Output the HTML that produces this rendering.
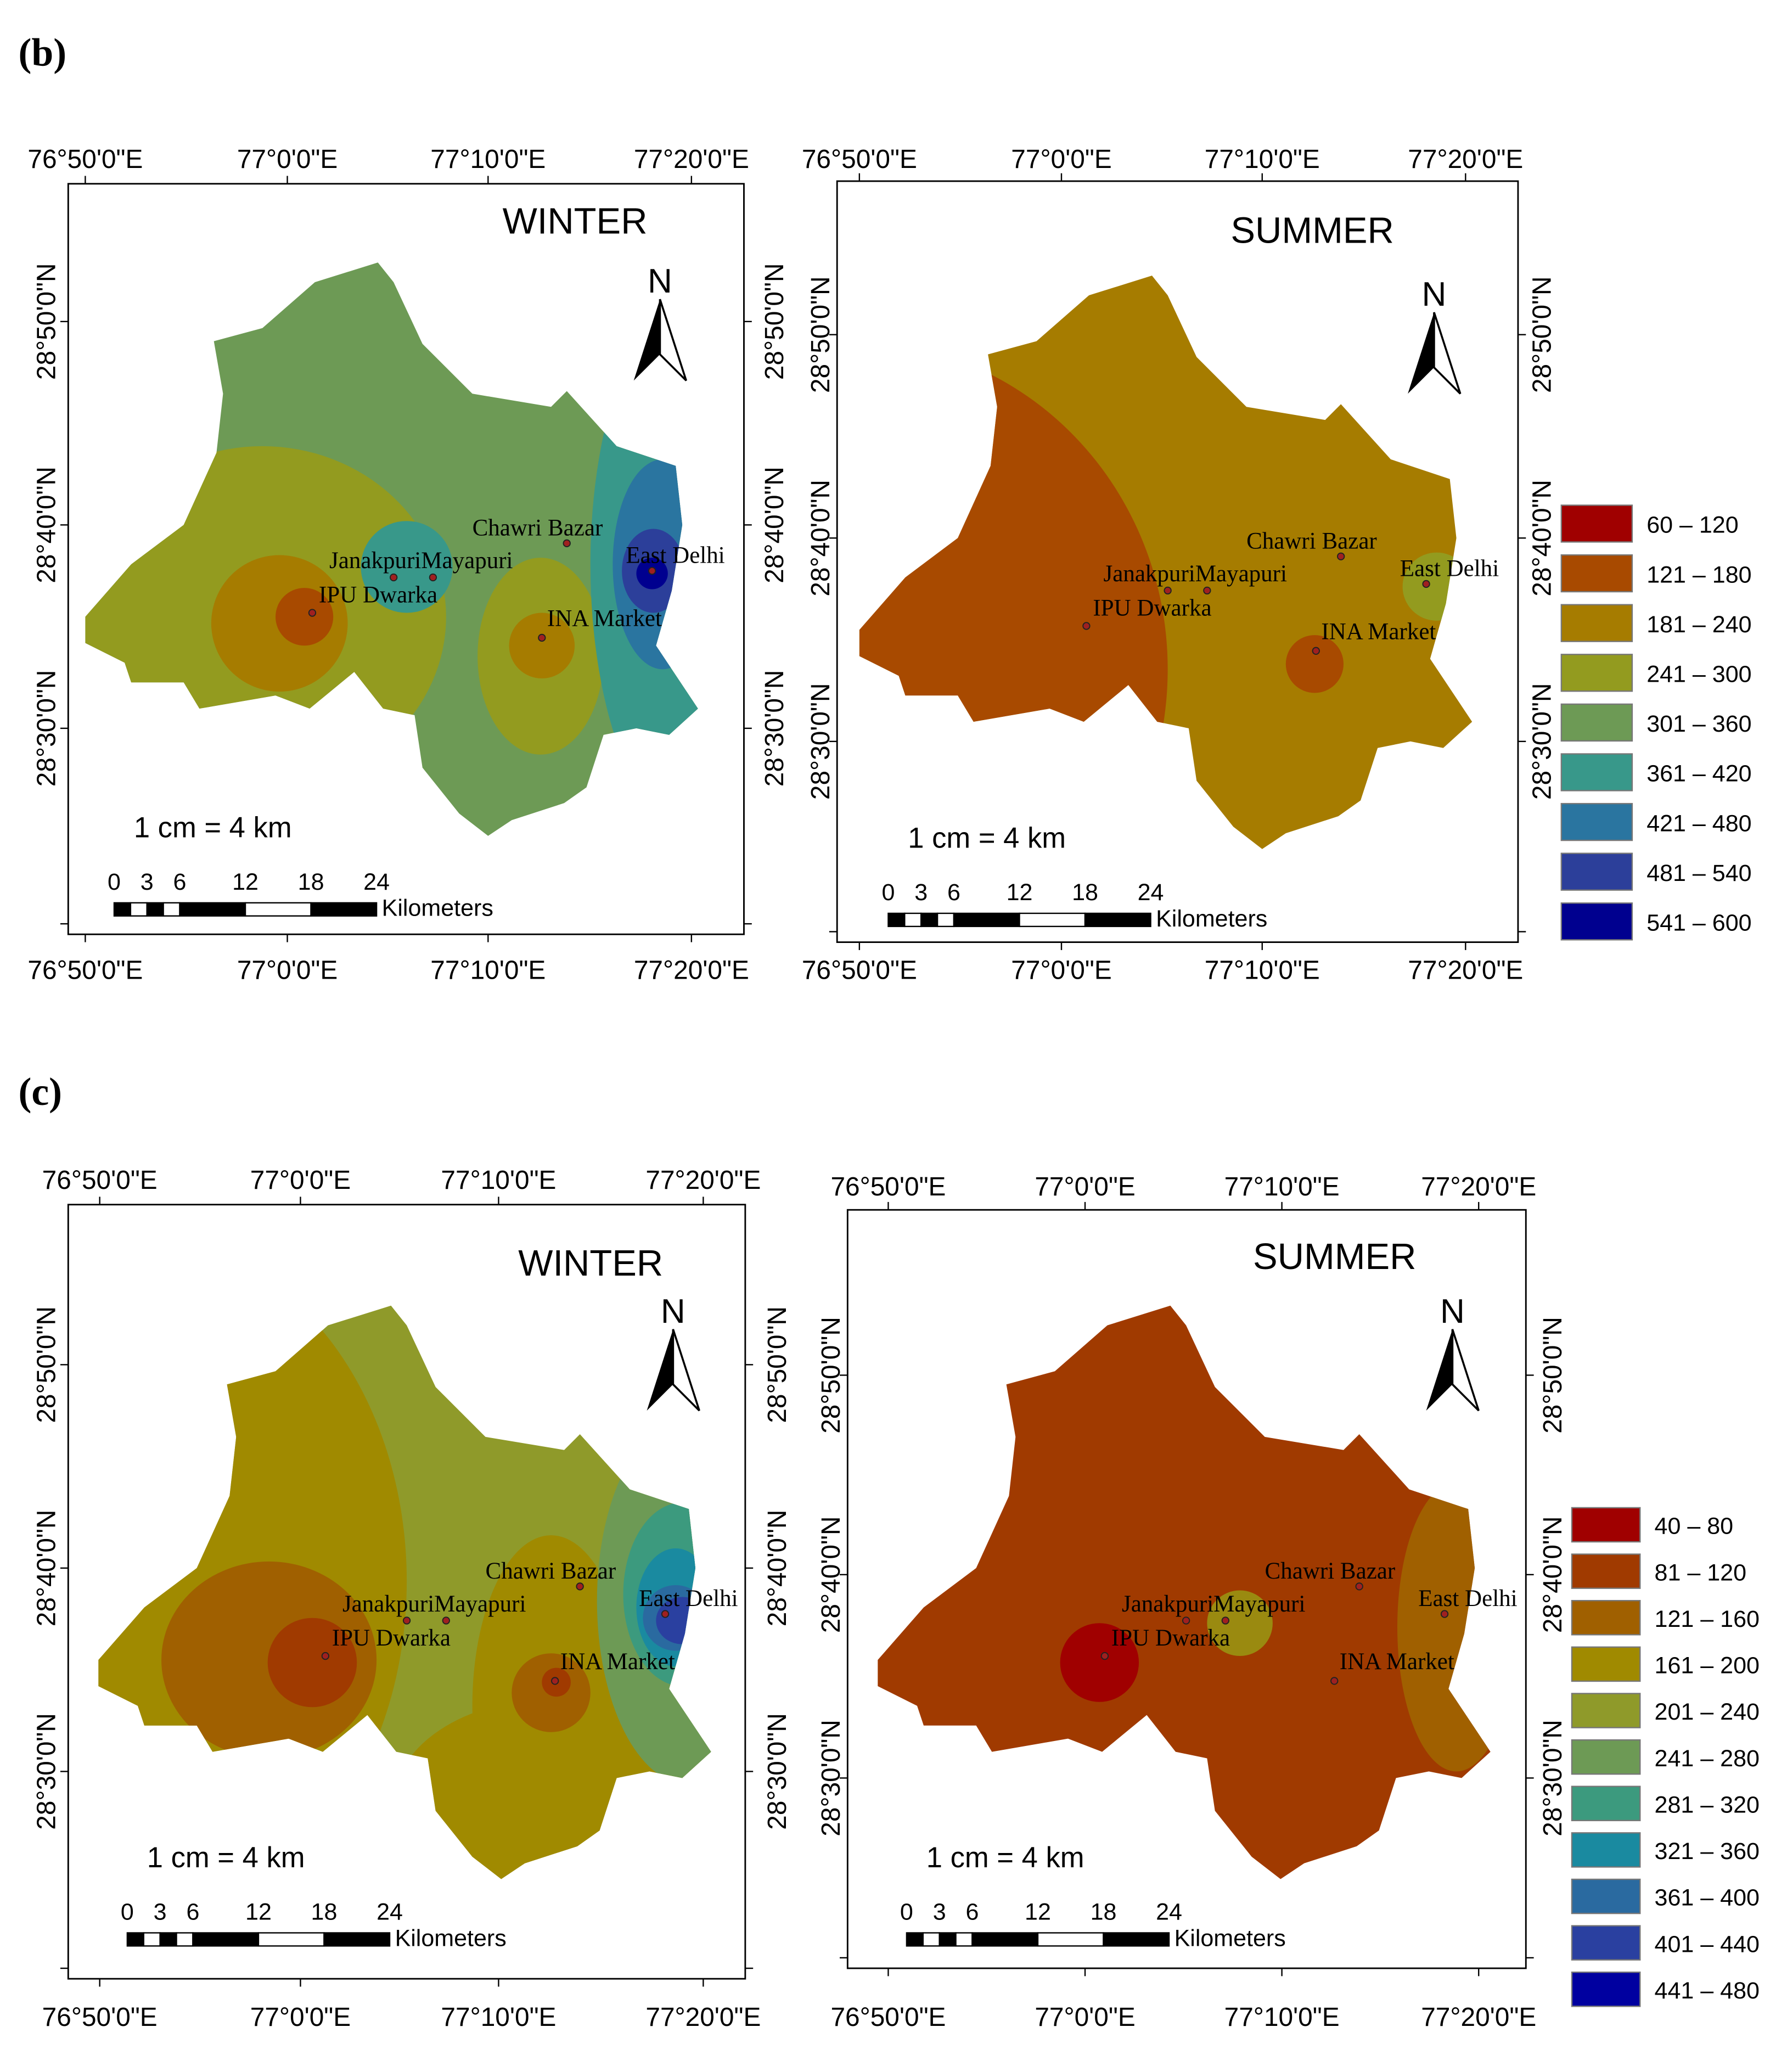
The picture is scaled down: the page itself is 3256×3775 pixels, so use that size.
<!DOCTYPE html>
<html><head><meta charset="utf-8">
<style>html,body{margin:0;padding:0;background:#fff}svg{display:block}</style></head>
<body>
<svg id="fig" xmlns="http://www.w3.org/2000/svg" width="3256" height="3775" viewBox="0 0 1362 1579" font-family="Liberation Sans, sans-serif">
<rect width="1362" height="1579" fill="#fff"/>
<text x="14" y="50" font-family="Liberation Serif, serif" font-weight="bold" font-size="30">(b)</text>
<text x="14" y="842" font-family="Liberation Serif, serif" font-weight="bold" font-size="30">(c)</text>
<g id="root"></g>
</svg>
<script>
const legendB = ["60 – 120","121 – 180","181 – 240","241 – 300","301 – 360","361 – 420","421 – 480","481 – 540","541 – 600"];
const colorsB = ["#a00000","#a84a00","#a67c00","#939b1f","#6d9a55","#38988a","#2a75a0","#2c3f9a","#00008f"];
const legendC = ["40 – 80","81 – 120","121 – 160","161 – 200","201 – 240","241 – 280","281 – 320","321 – 360","361 – 400","401 – 440","441 – 480"];
const colorsC = ["#a00000","#a03a00","#a06000","#a08a00","#8f9a2a","#6d9a55","#3c9a7e","#1a8aa0","#2a6aa0","#2a40a0","#0000a0"];
const lonTicks = ["76°50'0\"E","77°0'0\"E","77°10'0\"E","77°20'0\"E"];
const latTicks = ["28°50'0\"N","28°40'0\"N","28°30'0\"N"];
const stations = ["IPU Dwarka","Janakpuri","Mayapuri","Chawri Bazar","East Delhi","INA Market"];
const stationLabels = ["IPU Dwarka","JanakpuriMayapuri","","Chawri Bazar","East Delhi","INA Market"];
const scaleTicks = ["0","3","6","12","18","24"];

const NS="http://www.w3.org/2000/svg";
const root=document.getElementById('root');
function mk(tag,attrs,parent,txt){const e=document.createElementNS(NS,tag);for(const k in attrs)e.setAttribute(k,attrs[k]);if(txt!==undefined)e.textContent=txt;(parent||root).appendChild(e);return e;}

const shape=[[65,470],[100,430],[140,400],[165,345],[170,300],[163,260],[200,250],[240,215],[288,200],[300,215],[322,262],[360,300],[420,310],[432,298],[470,340],[515,355],[520,400],[512,450],[500,492],[532,540],[510,560],[485,555],[460,560],[447,600],[430,612],[390,625],[372,637],[350,620],[322,585],[316,545],[292,540],[270,512],[236,540],[210,530],[152,540],[140,520],[100,520],[95,505],[65,490]];
const stPos=[[238,467],[300,440],[330,440],[432,414],[497,435],[413,486]];
const stLab=[[243,459],[251,433],[300,433],[360,408],[477,429],[417,477]];

const panels=[
 {id:"b-winter",title:"WINTER",tx:383,ty:178,frame:[52,140,567,712],top:[65,219,372,527],ly:128,by:746,lat:[245,400,555],lx:35,rx:590,dx:0,dy:0,base:colorsB[4],
  blobs:[[200,470,140,130,colorsB[3]],[213,475,52,52,colorsB[2]],[232,470,22,22,colorsB[1]],[310,432,35,35,colorsB[5]],[412,500,48,75,colorsB[3]],[413,492,25,25,colorsB[2]],[535,430,85,210,colorsB[5]],[505,430,38,80,colorsB[6]],[498,435,24,32,colorsB[7]],[497,437,12,12,colorsB[8]]]},
 {id:"b-summer",title:"SUMMER",tx:938,ty:185,frame:[638,138,1157,718],top:[655,809,962,1117],ly:128,by:746,lat:[255,410,565],lx:625,rx:1175,dx:590,dy:10,base:colorsB[2],
  blobs:[[60,500,240,250,colorsB[1]],[412,496,22,22,colorsB[1]],[505,437,26,26,colorsB[3]]]},
 {id:"c-winter",title:"WINTER",tx:395,ty:972,frame:[52,918,568,1508],top:[76,229,380,536],ly:906,by:1544,lat:[1040,1195,1350],lx:35,rx:592,dx:10,dy:795,base:colorsC[4],
  blobs:[[100,410,200,260,colorsC[3]],[410,580,120,80,colorsC[3]],[195,470,82,75,colorsC[2]],[228,472,34,34,colorsC[1]],[410,505,60,130,colorsC[3]],[410,495,30,30,colorsC[2]],[414,487,11,11,colorsC[1]],[515,425,70,140,colorsC[5]],[510,420,45,70,colorsC[6]],[505,430,30,45,colorsC[7]],[505,438,25,25,colorsC[8]],[510,440,20,18,colorsC[9]]]},
 {id:"c-summer",title:"SUMMER",tx:955,ty:967,frame:[646,922,1163,1500],top:[677,827,977,1127],ly:911,by:1544,lat:[1048,1200,1355],lx:633,rx:1183,dx:604,dy:795,base:colorsC[1],
  blobs:[[234,472,30,30,colorsC[0]],[341,442,25,25,"#9a8a10"],[506,445,45,110,colorsC[2]]]}
];

panels.forEach((p,pi)=>{
 const g=mk('g',{});
 
 
 const [x0,y0,x1,y1]=p.frame;
 const fr=mk('rect',{x:x0,y:y0,width:x1-x0,height:y1-y0,fill:'none',stroke:'#000','stroke-width':1.2},g);
 
 
 p.top.forEach((x,i)=>{
  mk('line',{x1:x,y1:y0,x2:x,y2:y0-6,stroke:'#000'},g);
  mk('line',{x1:x,y1:y1,x2:x,y2:y1+6,stroke:'#000'},g);
  const t=mk('text',{x:x,y:p.ly,'font-size':20,'text-anchor':'middle'},g,lonTicks[i]);
  
  
  const b=mk('text',{x:x,y:p.by,'font-size':20,'text-anchor':'middle'},g,lonTicks[i]);
  
  
 });
 p.lat.forEach((y,i)=>{
  mk('line',{x1:x0,y1:y,x2:x0-6,y2:y,stroke:'#000'},g);
  mk('line',{x1:x1,y1:y,x2:x1+6,y2:y,stroke:'#000'},g);
  const l=mk('text',{x:p.lx,y:y,'font-size':20,'text-anchor':'middle',transform:`rotate(-90 ${p.lx} ${y})`,dy:7},g,latTicks[i]);
  
  
  const r=mk('text',{x:p.rx,y:y,'font-size':20,'text-anchor':'middle',transform:`rotate(-90 ${p.rx} ${y})`,dy:7},g,latTicks[i]);
  
  
 });
 mk('line',{x1:x0,y1:y1-8,x2:x0-6,y2:y1-8,stroke:'#000'},g);
 mk('line',{x1:x1,y1:y1-8,x2:x1+6,y2:y1-8,stroke:'#000'},g);
 const dx=p.dx,dy=p.dy;
 const pts=shape.map(q=>(q[0]+dx)+','+(q[1]+dy)).join(' ');
 const cp=mk('clipPath',{id:'clip'+pi},g);
 mk('polygon',{points:pts},cp);
 const sh=mk('polygon',{points:pts,fill:p.base},g);
 
 
 const bg=mk('g',{'clip-path':`url(#clip${pi})`},g);
 p.blobs.forEach(b=>{
  const e=mk('ellipse',{cx:b[0]+dx,cy:b[1]+dy,rx:b[2],ry:b[3],fill:b[4]},bg);
  
  
 });
 stations.forEach((s,i)=>{
  const c=mk('circle',{cx:stPos[i][0]+dx,cy:stPos[i][1]+dy,r:2.6,fill:'#a02020',stroke:'#222','stroke-width':0.8},g);
  
  
  if(stationLabels[i]){
   const t=mk('text',{x:stLab[i][0]+dx,y:stLab[i][1]+dy,'font-size':18,'font-family':'Liberation Serif, serif'},g,stationLabels[i]);
   
   
  }
 });
 const ti=mk('text',{x:p.tx,y:p.ty,'font-size':28},g,p.title);
 
 
 const ax=503+dx, ay=228+dy - (pi>=2?10:0);
 const na=mk('g',{},g);
 
 
 mk('text',{x:ax,y:ay-5,'font-size':26,'text-anchor':'middle'},na,'N');
 mk('polygon',{points:`${ax},${ay} ${ax-20},${ay+62} ${ax},${ay+42}`,fill:'#000'},na);
 mk('polygon',{points:`${ax},${ay} ${ax+20},${ay+62} ${ax},${ay+42}`,fill:'#fff',stroke:'#000','stroke-width':1.5},na);
 const sx=87+dx, sy=688+dy - (pi>=2?10:0) + (pi===1?-2:0);
 const sc=mk('g',{},g);
 
 
 mk('text',{x:sx+15,y:sy-50,'font-size':22},sc,'1 cm = 4 km');
 const unit=200/24;
 scaleTicks.forEach(v=>{mk('text',{x:sx+(+v)*unit,y:sy-10,'font-size':18,'text-anchor':'middle'},sc,v);});
 const segs=[[0,1.5,'#000'],[1.5,3,'#fff'],[3,4.5,'#000'],[4.5,6,'#fff'],[6,12,'#000'],[12,18,'#fff'],[18,24,'#000']];
 segs.forEach(s=>mk('rect',{x:sx+s[0]*unit,y:sy,width:(s[1]-s[0])*unit,height:10,fill:s[2],stroke:'#000','stroke-width':1},sc));
 mk('text',{x:sx+204,y:sy+10,'font-size':18},sc,'Kilometers');
});

function legend(labels,colors,x,y,pitch,h,w,name){
 const g=mk('g',{});
 
 
 labels.forEach((l,i)=>{
  const r=mk('rect',{x:x,y:y+i*pitch,width:w,height:h,fill:colors[i],stroke:'#777','stroke-width':1},g);
  
  
  const t=mk('text',{x:x+w+11,y:y+i*pitch+h/2+7,'font-size':18},g,l);
  
  
 });
}
legend(legendB,colorsB,1190,385,37.9,28,54,'legend-b');
legend(legendC,colorsC,1198,1149,35.4,26,52,'legend-c');
</script>
</body></html>
